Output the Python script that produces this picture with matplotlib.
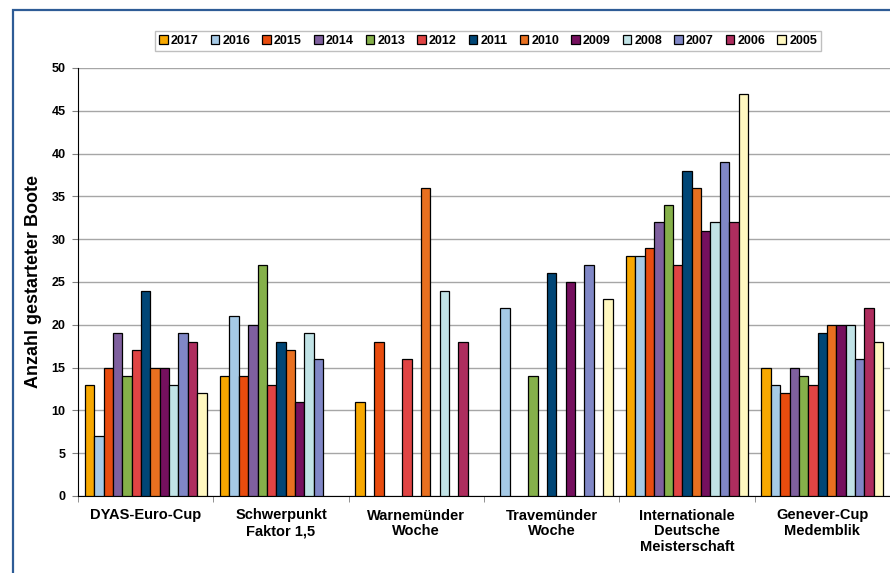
import numpy as np
import matplotlib
matplotlib.use('Agg')
from matplotlib import pyplot as plt
from matplotlib.patches import Rectangle

nan = np.nan

# Regatten (Kategorien)
regatten = ['DYAS-Euro-Cup', 'Schwerpunkt\nFaktor 1,5', 'Warnemünder\nWoche',
            'Travemünder\nWoche', 'Internationale\nDeutsche\nMeisterschaft',
            'Genever-Cup\nMedemblik']

jahre = ['2017', '2016', '2015', '2014', '2013', '2012', '2011',
         '2010', '2009', '2008', '2007', '2006', '2005']

# Anzahl gestarteter Boote je Jahr (Reihenfolge wie regatten)
b2017 = [13, 14, 11, nan, 28, 15]
b2016 = [7, 21, nan, 22, 28, 13]
b2015 = [15, 14, 18, nan, 29, 12]
b2014 = [19, 20, nan, nan, 32, 15]
b2013 = [14, 27, nan, 14, 34, 14]
b2012 = [17, 13, 16, nan, 27, 13]
b2011 = [24, 18, nan, 26, 38, 19]
b2010 = [15, 17, 36, nan, 36, 20]
b2009 = [15, 11, nan, 25, 31, 20]
b2008 = [13, 19, 24, nan, 32, 20]
b2007 = [19, 16, nan, 27, 39, 16]
b2006 = [18, nan, 18, nan, 32, 22]
b2005 = [12, nan, nan, 23, 47, 18]

werte = [b2017, b2016, b2015, b2014, b2013, b2012, b2011,
         b2010, b2009, b2008, b2007, b2006, b2005]

farben = ['#F7A800', '#A6CAE6', '#E84C0E', '#7F609E', '#85B04A', '#E04444',
          '#004676', '#E87020', '#75105E', '#C1E3E6', '#8087C6', '#AE2D5E',
          '#FFF8C0']

plt.rcParams['font.family'] = ['Liberation Sans', 'DejaVu Sans']
plt.rcParams['font.weight'] = 'bold'

fig = plt.figure(figsize=(8.9, 5.73), dpi=100)
ax = fig.add_axes([78 / 890, 77 / 573, 812 / 890, 428 / 573])

x = np.arange(len(regatten))
n = len(jahre)
breite = 0.9 / n
for i, (jahr, w, c) in enumerate(zip(jahre, werte, farben)):
    pos = x - 0.45 + breite * (i + 0.5)
    ax.bar(pos, w, width=breite, color=c, edgecolor='black', linewidth=0.9,
           label=jahr, zorder=3)

ax.set_xlim(-0.5, len(regatten) - 0.5)
ax.set_ylim(0, 50)
ax.set_yticks(np.arange(0, 51, 5))
ax.yaxis.grid(True, color='#A6A6A6', linewidth=1, zorder=0)
ax.set_axisbelow(True)

ax.set_xticks(x)
ax.set_xticklabels(regatten, fontsize=10.5, fontweight='bold', linespacing=1.15)
ax.set_xticks(np.arange(-0.5, len(regatten), 1), minor=True)
ax.tick_params(axis='x', which='major', length=0, pad=9)
ax.tick_params(axis='x', which='minor', length=4, color='#808080')
ax.tick_params(axis='y', length=4, color='#808080', labelsize=9, pad=5)
for t in ax.get_yticklabels():
    t.set_fontweight('bold')

ax.spines['top'].set_visible(False)
ax.spines['right'].set_visible(False)
ax.spines['left'].set_color('black')
ax.spines['bottom'].set_color('black')

ax.set_ylabel('Anzahl gestarteter Boote', fontsize=13, fontweight='bold', labelpad=7)

leg = fig.legend(loc='center', bbox_to_anchor=(488 / 890, 1 - 41 / 573), ncol=n,
                 fontsize=9, frameon=True, fancybox=False, handlelength=0.7,
                 handleheight=0.7, handletextpad=0.25, columnspacing=0.95,
                 borderpad=0.35)
leg.get_frame().set_edgecolor('#B0B0B0')
leg.get_frame().set_linewidth(1)
for t in leg.get_texts():
    t.set_fontweight('bold')

# Rahmen des Diagramms
fig.patches.append(Rectangle((13 / 890, -0.05), 1.0, 1 - 10 / 573 + 0.05,
                             transform=fig.transFigure, fill=False,
                             edgecolor='#2E5C96', linewidth=1.6, clip_on=False))

fig.savefig('out.png', dpi=100)
